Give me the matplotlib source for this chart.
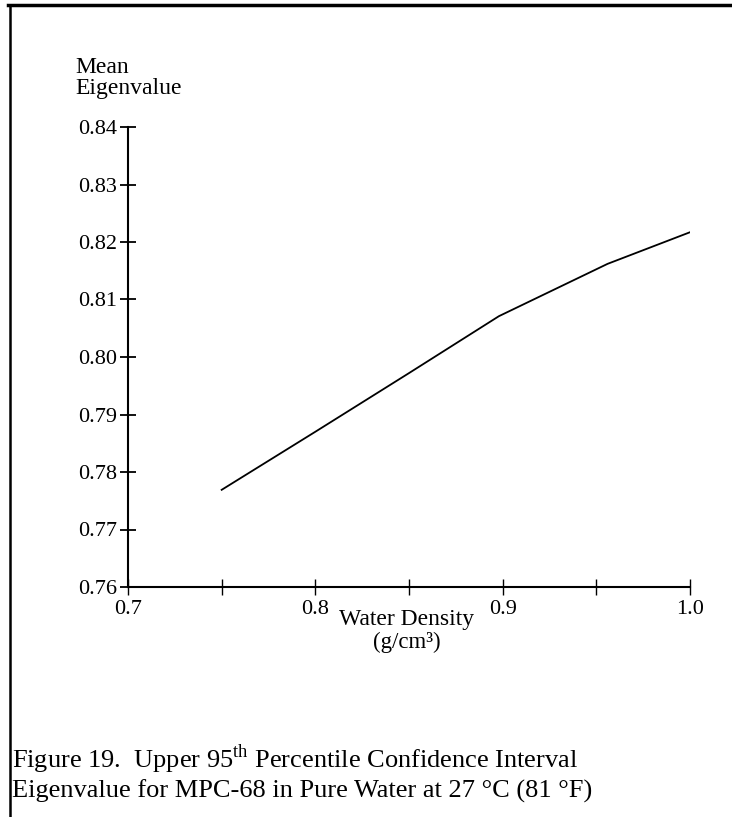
import matplotlib
matplotlib.use("Agg")
import matplotlib.pyplot as plt
from matplotlib.lines import Line2D

# Data
density = [0.75, 0.80, 0.85, 0.898, 0.956, 1.00]
eigenvalue = [0.7769, 0.7870, 0.7972, 0.8071, 0.8162, 0.8217]

x_ticks = [0.70, 0.75, 0.80, 0.85, 0.90, 0.95, 1.00]
x_tick_labels = ["0.7", "", "0.8", "", "0.9", "", "1.0"]
y_ticks = [0.76, 0.77, 0.78, 0.79, 0.80, 0.81, 0.82, 0.83, 0.84]
y_tick_labels = ["0.76", "0.77", "0.78", "0.79", "0.80", "0.81", "0.82", "0.83", "0.84"]

caption = ("Figure 19.  Upper 95$^{\\mathregular{th}}$ Percentile Confidence Interval\n"
           "Eigenvalue for MPC-68 in Pure Water at 27 \u00b0C (81 \u00b0F)")

plt.rcParams['font.family'] = ['Liberation Serif', 'DejaVu Serif']
plt.rcParams['mathtext.fontset'] = 'custom'
plt.rcParams['mathtext.rm'] = 'Liberation Serif'

W, H = 732, 817
fig = plt.figure(figsize=(W / 100, H / 100), dpi=100)
ax = fig.add_axes([128 / W, 1 - 587 / H, (690 - 128) / W, (587 - 127) / H])

ax.plot(density, eigenvalue, color='black', lw=1.3)

ax.set_xlim(0.70, 1.00)
ax.set_ylim(0.76, 0.84)
ax.set_xticks(x_ticks)
ax.set_xticklabels(x_tick_labels)
ax.set_yticks(y_ticks)
ax.set_yticklabels(y_tick_labels)

for s in ['top', 'right']:
    ax.spines[s].set_visible(False)
for s in ['left', 'bottom']:
    ax.spines[s].set_linewidth(1.5)

ax.tick_params(axis='y', direction='inout', length=12, width=1.3, labelsize=16, pad=2)
ax.tick_params(axis='x', direction='inout', length=12, width=1.0, labelsize=16, pad=3)

fig.text(75 / W, 1 - 78 / H, "Mean\nEigenvalue", ha='left', va='center',
         fontsize=17, linespacing=0.95)
fig.text(407 / W, 1 - 619 / H, "Water Density", ha='center', va='center', fontsize=17)
fig.text(407 / W, 1 - 642 / H, "(g/cm\u00b3)", ha='center', va='center', fontsize=16.5)

fig.text(12 / W, 1 - 773 / H, caption, ha='left', va='center', fontsize=19, linespacing=1.2)

# page frame lines
fig.add_artist(Line2D([8 / W, 1.0], [1 - 5 / H, 1 - 5 / H], color='black', lw=2.5,
                      transform=fig.transFigure))
fig.add_artist(Line2D([10 / W, 10 / W], [1 - 5 / H, 0.0], color='black', lw=1.8,
                      transform=fig.transFigure))

fig.savefig("out.png", dpi=100)
